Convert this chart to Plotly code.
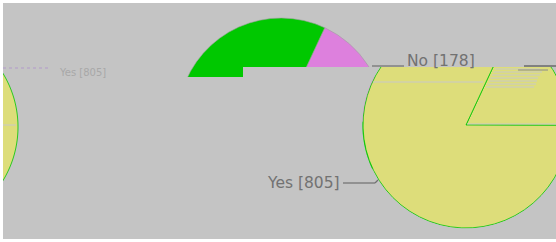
import numpy as np
import plotly.graph_objects as go

# ---- data ----
labels = ["No", "Yes"]
values = [178, 805]
label_text = ["No [178]", "Yes [805]"]

# ---- styling ----
W, H = 580, 242
BG = "#c4c4c4"
YELLOW = "#dddd7a"
GREEN = "#00c800"
PINK = "#dd80dd"
TXT = "#727272"


def X(px):
    return px / W


def Y(py):
    return 1 - py / H


fig = go.Figure()

# upper pie (green / pink)
fig.add_trace(go.Pie(
    labels=labels, values=values, sort=False, direction="clockwise", rotation=25,
    marker=dict(colors=[PINK, GREEN], line=dict(color="#a0a0a0", width=0.6)),
    textinfo="none", hoverinfo="label+value", showlegend=False,
    domain=dict(x=[X(177.5), X(384.5)], y=[Y(225), Y(18)]),
))
# lower-right pie (yellow)
fig.add_trace(go.Pie(
    labels=labels, values=values, sort=False, direction="clockwise", rotation=25,
    marker=dict(colors=[YELLOW, YELLOW], line=dict(color=GREEN, width=0.8)),
    textinfo="none", hoverinfo="label+value", showlegend=False,
    domain=dict(x=[X(363), X(569)], y=[Y(228), Y(22)]),
))

shapes = []
# background frame
shapes.append(dict(type="rect", xref="paper", yref="paper", layer="below",
                   x0=X(3), x1=X(W), y0=Y(239), y1=Y(3), fillcolor=BG, line=dict(width=0)))


def path_from(points_list):
    parts = []
    for pts in points_list:
        s = "M " + " L ".join(f"{X(px):.5f},{Y(py):.5f}" for px, py in pts) + " Z"
        parts.append(s)
    return " ".join(parts)


# mask with hole for the right pie
outer = [(3, 77), (243, 77), (243, 67), (W, 67), (W, 239), (3, 239)]
cx, cy, r = 466, 125, 103.6
t = np.linspace(0, 2 * np.pi, 240, endpoint=False)
hole = [(cx + r * np.sin(a), cy - r * np.cos(a)) for a in t]
shapes.append(dict(type="path", xref="paper", yref="paper", layer="above",
                   path=path_from([outer, hole]), fillcolor=BG, line=dict(width=0),
                   fillrule="evenodd"))
# mask over the top of the right pie
shapes.append(dict(type="rect", xref="paper", yref="paper", layer="above",
                   x0=X(371), x1=X(W), y0=Y(67), y1=Y(3), fillcolor=BG, line=dict(width=0)))

# left crescent fragment
lcx, lcy, lr = -85, 127, 103
ys = np.linspace(68, 186, 60)
arc = [(lcx + np.sqrt(max(lr ** 2 - (yy - lcy) ** 2, 0)), yy) for yy in ys]
cres = [(-5, 68)] + arc + [(-5, 186)]
shapes.append(dict(type="path", xref="paper", yref="paper", layer="above",
                   path=path_from([cres]), fillcolor=YELLOW,
                   line=dict(color=GREEN, width=0.8)))


def seg(x0, y0, x1, y1, color, width=1, dash="solid"):
    shapes.append(dict(type="line", xref="paper", yref="paper", layer="above",
                       x0=X(x0), y0=Y(y0), x1=X(x1), y1=Y(y1),
                       line=dict(color=color, width=width, dash=dash)))


# glitch stripes inside the right pie
seg(373, 82, 483, 82, "#c8c8c8")
seg(467, 124, 556, 124, "#c8c8c8")
for sy, ex in [(69, 540), (72, 542), (75, 540), (78, 538), (81, 537), (84, 536), (87, 534)]:
    sx = 467 + (124 - sy) * 28 / 57
    seg(sx + 1, sy, ex, sy, "#c8c8c8")
seg(524, 66, 556, 66, "#6a6a6a", 1.5)
seg(518, 70, 548, 70, "#8a8a8a", 1)
seg(0, 125, 16, 125, "#c8c8c8")
seg(3, 68, 50, 68, "#b8a8c8", 1.5, "dot")

# leader lines
seg(343, 183, 375, 183, "#707070", 1.2)
seg(375, 183, 378, 180, "#707070", 1.2)
seg(372, 66, 404, 66, "#707070", 1.2)

# white outer frame (top / left / bottom)
for x0, y0, x1, y1 in [(0, 0, W, 3), (0, 0, 3, H), (0, 239, W, H)]:
    shapes.append(dict(type="rect", xref="paper", yref="paper", layer="above",
                       x0=X(x0), y0=Y(y1), x1=X(x1), y1=Y(y0),
                       fillcolor="white", line=dict(width=0)))

annotations = [
    dict(x=X(303), y=Y(183), xref="paper", yref="paper", text=label_text[1],
         xanchor="center", yanchor="middle",
         showarrow=False, font=dict(family="DejaVu Sans", size=15.5, color=TXT)),
    dict(x=X(441), y=Y(61), xref="paper", yref="paper", text=label_text[0],
         xanchor="center", yanchor="middle",
         showarrow=False, font=dict(family="DejaVu Sans", size=15.5, color=TXT)),
    dict(x=X(82), y=Y(72), xref="paper", yref="paper", text=label_text[1],
         xanchor="center", yanchor="middle",
         showarrow=False, font=dict(family="DejaVu Sans", size=10, color="#a8a8a8")),
]

fig.update_layout(
    width=W, height=H, margin=dict(l=0, r=0, t=0, b=0),
    paper_bgcolor="white", plot_bgcolor=BG,
    shapes=shapes, annotations=annotations, showlegend=False,
)

post = ("document.documentElement.style.overflow='hidden';"
        "document.body.style.overflow='hidden';"
        "document.body.style.margin='0';")
fig.write_html("out.html", config={"displayModeBar": False}, post_script=post)
